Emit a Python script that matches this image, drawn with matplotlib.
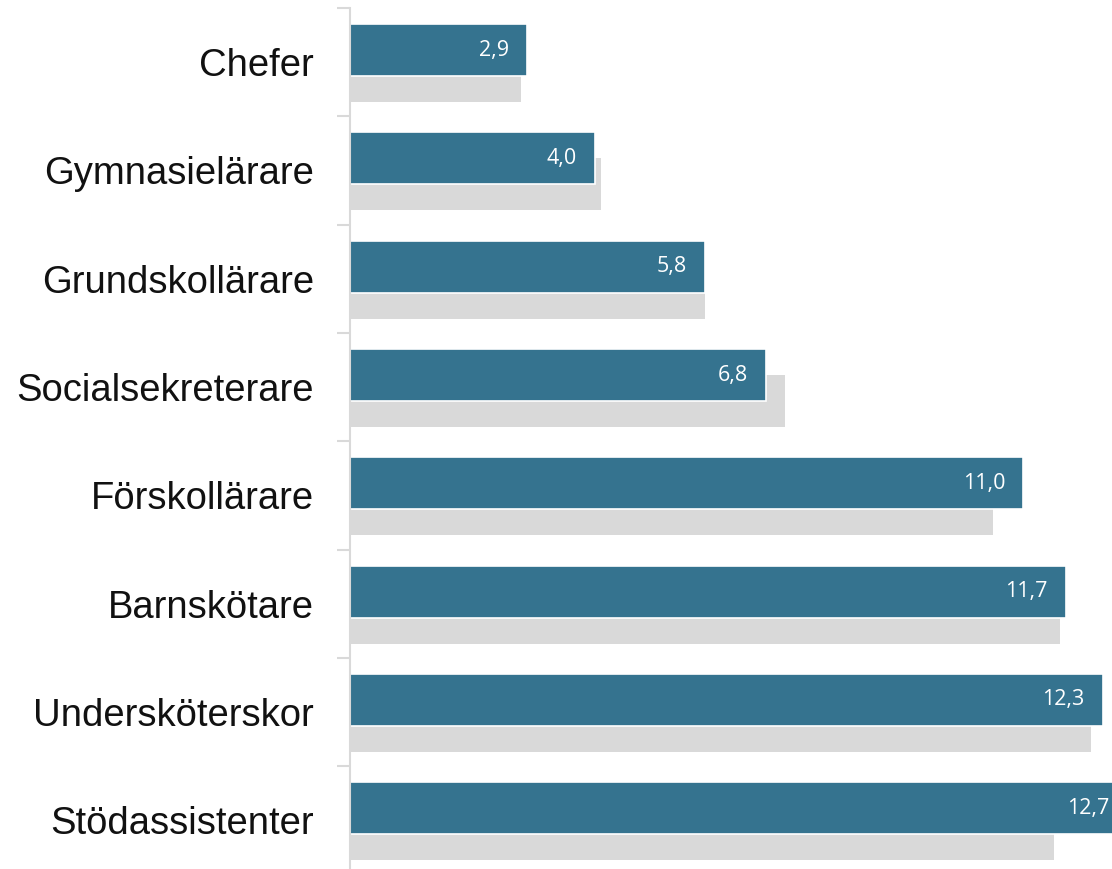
import matplotlib
matplotlib.use("Agg")
import matplotlib.pyplot as plt
import numpy as np

categories = ["Chefer", "Gymnasielärare", "Grundskollärare", "Socialsekreterare",
              "Förskollärare", "Barnskötare", "Undersköterskor", "Stödassistenter"]
values_main = [2.9, 4.0, 5.8, 6.8, 11.0, 11.7, 12.3, 12.7]
values_back = [2.8, 4.1, 5.8, 7.1, 10.5, 11.6, 12.1, 11.5]
value_labels = ["2,9", "4,0", "5,8", "6,8", "11,0", "11,7", "12,3", "12,7"]

W, H = 1112, 869
fig = plt.figure(figsize=(W / 100, H / 100), dpi=100)

px_per_unit = 61.2
x0_px = 350
xmax = 13.0
band_px = 108.3
top_px = 8
n = len(categories)
ax_h_px = n * band_px
ax = fig.add_axes([x0_px / W, (H - top_px - ax_h_px) / H,
                   xmax * px_per_unit / W, ax_h_px / H])

y = np.arange(n)
bh = 52 / band_px
off_main = -12 / band_px
off_back = 14 / band_px

ax.barh(y + off_back, values_back, height=bh, color="#d9d9d9", zorder=1)
ax.barh(y + off_main, values_main, height=bh, color="#35738f",
        edgecolor="white", linewidth=1.2, zorder=2)

for yi, v, lab in zip(y, values_main, value_labels):
    ax.annotate(lab, xy=(v, yi + off_main), xytext=(-13, 0),
                textcoords="offset points", ha="right", va="center",
                color="white", fontsize=15.5, family="Open Sans", zorder=3)

ax.set_xlim(0, xmax)
ax.set_ylim(n - 0.5, -0.5)

ax.set_yticks(y)
ax.set_yticklabels(categories, fontsize=27.5, family="Liberation Sans", color="#111111")
ax.tick_params(axis="y", which="major", length=0, pad=26)
ax.set_yticks(np.arange(n + 1) - 0.5, minor=True)
ax.tick_params(axis="y", which="minor", length=9.5, width=1.5, color="#d9d9d9")
ax.set_xticks([])

for s in ["top", "right", "bottom"]:
    ax.spines[s].set_visible(False)
ax.spines["left"].set_color("#d9d9d9")
ax.spines["left"].set_linewidth(1.5)

fig.savefig("out.png", dpi=100)
